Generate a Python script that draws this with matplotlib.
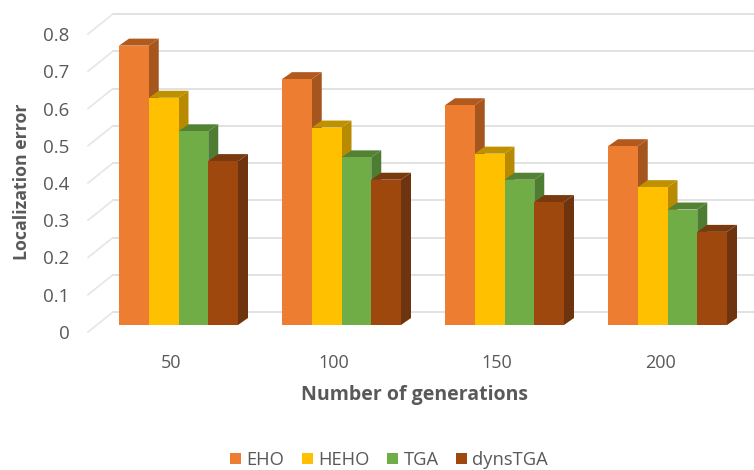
import matplotlib.pyplot as plt
import numpy as np

plt.rcParams['font.family'] = ['Open Sans', 'DejaVu Sans']

generations = ['50', '100', '150', '200']
eho = [0.75, 0.66, 0.59, 0.48]
heho = [0.61, 0.53, 0.46, 0.37]
tga = [0.52, 0.45, 0.39, 0.31]
dyns_tga = [0.44, 0.39, 0.33, 0.25]
y_ticks = [0, 0.1, 0.2, 0.3, 0.4, 0.5, 0.6, 0.7, 0.8]

names = ['EHO', 'HEHO', 'TGA', 'dynsTGA']
fronts = ['#ED7D31', '#FFC000', '#70AD47', '#9E480E']
sides = ['#A5561E', '#B88A00', '#4E7D32', '#6E3410']
tops = ['#B25A1E', '#BF9000', '#548235', '#7A3A10']
text_color = '#595959'

W, H = 754, 470
fig = plt.figure(figsize=(W / 100, H / 100), dpi=100)
# axes rectangle is the front edge of the 3D box
ax = fig.add_axes([88 / W, (H - 332) / H, (W - 88) / W, 298 / H])
ax.set_xlim((88 - 178.5) / 163, (W - 178.5) / 163)
ax.set_ylim(0, 0.8)

# depth offsets, in data units
wall_dx = 25 / 163
wall_dy = 20 / 372.5
bar_lift = 7 / 372.5
bar_dx = 10 / 163
bar_dy = 7 / 372.5
bar_width = 29.75 / 163

x0, x1 = ax.get_xlim()
for t in y_ticks:
    ax.plot([x0 + wall_dx, x1], [t + wall_dy, t + wall_dy], color='#E2E2E2', lw=1.4,
            clip_on=False, zorder=1)
    ax.plot([x0, x0 + wall_dx], [t, t + wall_dy], color='#E6E6E6', lw=1.2,
            clip_on=False, zorder=1)

x = np.arange(len(generations))
series = [eho, heho, tga, dyns_tga]
z = 2
for g in x:
    for i, values in enumerate(series):
        left = g + (i - 2) * bar_width
        v = values[g]
        top = v + bar_lift
        ax.fill([left + bar_width, left + bar_width + bar_dx, left + bar_width + bar_dx, left + bar_width],
                [bar_lift, bar_lift + bar_dy, top + bar_dy, top],
                color=sides[i], lw=0, zorder=z)
        ax.fill([left, left + bar_dx, left + bar_width + bar_dx, left + bar_width],
                [top, top + bar_dy, top + bar_dy, top],
                color=tops[i], lw=0, zorder=z)
        ax.bar(left, v, bar_width, bottom=bar_lift, align='edge', color=fronts[i], lw=0,
               zorder=z + 0.5, label=names[i] if g == 0 else None)
        z += 1

for s in ax.spines.values():
    s.set_visible(False)

ax.set_xticks(x - 0.046)
ax.set_xticklabels(generations)
ax.set_yticks(y_ticks)
ax.set_yticklabels(['0', '0.1', '0.2', '0.3', '0.4', '0.5', '0.6', '0.7', '0.8'])
ax.tick_params(axis='x', length=0, pad=16, labelsize=13, labelcolor=text_color)
ax.tick_params(axis='y', length=0, pad=13.5, labelsize=13.5, labelcolor=text_color)

fig.text(22 / W, 1 - 182 / H, 'Localization error', rotation=90, ha='center', va='center',
         fontsize=12.8, fontweight='bold', color=text_color)
fig.text(414 / W, 1 - 395 / H, 'Number of generations', ha='center', va='center',
         fontsize=14, fontweight='bold', color=text_color)

fig.legend(loc='center', bbox_to_anchor=(389 / W, 1 - 460 / H), ncol=4, frameon=False,
           fontsize=13.2, labelcolor=text_color, handlelength=0.6, handleheight=0.6,
           handletextpad=0.3, columnspacing=0.95)

fig.savefig('out.png', dpi=100)
